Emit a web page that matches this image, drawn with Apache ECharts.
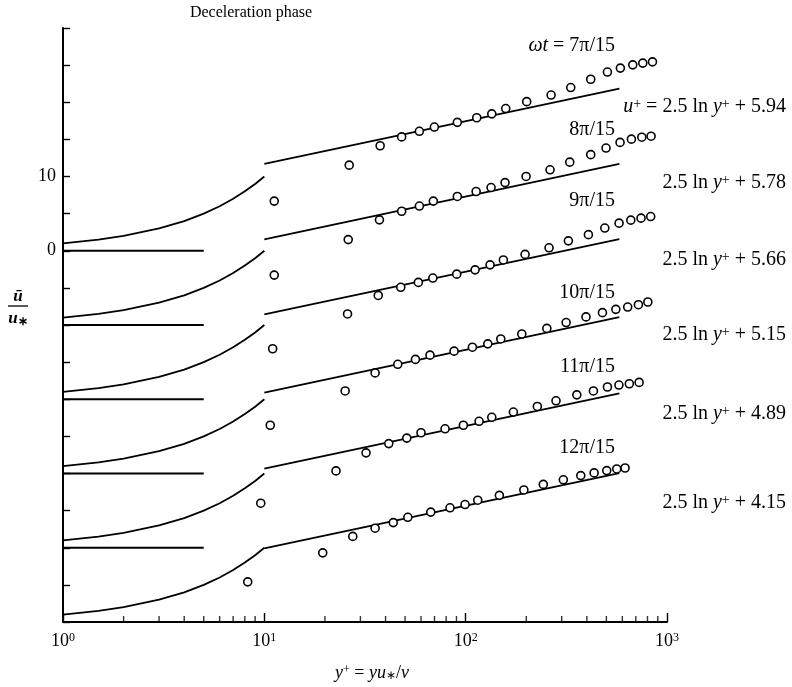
<!DOCTYPE html>
<html><head><meta charset="utf-8">
<script src="https://cdn.jsdelivr.net/npm/echarts@6/dist/echarts.min.js"></script>
<style>html,body{margin:0;padding:0;background:#fff;overflow:hidden}#c{width:792px;height:687px}</style>
</head><body><div id="c"></div>
<script>
// ---------- data ----------
const phaseLabels = ['7π/15', '8π/15', '9π/15', '10π/15', '11π/15', '12π/15'];
const offsets = [0, -10, -20, -30, -40, -50];          // vertical shift of each profile
const logConstants = [5.94, 5.78, 5.66, 5.15, 4.89, 4.15];
const logRange = [10, 580];                               // y+ extent of log-law lines
const baselineRange = [1, 5];                             // y+ extent of zero reference lines
const viscousYPlus = [1, 1.5, 2, 3, 4, 5, 6, 7, 8, 9, 10]; // u+ = y+ sublayer
const minorTickValues = [2,3,4,5,6,7,8,9,20,30,40,50,60,70,80,90,200,300,400,500,600,700,800,900];
const yTickLabels = [10, 0];

const yPlus7  = [11.2, 26.4, 37.6, 48.1, 58.9, 69.9, 90.9, 113.5, 134.8, 158.1, 201, 265.7, 332.6, 418, 505.9, 586.6, 676, 758, 847];
const u7      = [6.69, 11.53, 14.14, 15.33, 16.09, 16.66, 17.29, 17.91, 18.44, 19.15, 20.08, 20.97, 21.98, 23.1, 24.07, 24.6, 25.04, 25.27, 25.44];
const yPlus8  = [11.2, 26.1, 37.3, 48.1, 58.9, 69.1, 90.9, 112.7, 133.7, 156.9, 199.6, 262.4, 328.8, 418, 498, 584.6, 665.6, 749.6, 833.7];
const u8      = [6.72, 11.5, 14.16, 15.32, 16.02, 16.69, 17.31, 17.98, 18.51, 19.18, 20.01, 20.9, 21.93, 22.94, 23.83, 24.59, 25.03, 25.29, 25.43];
const yPlus9  = [11.0, 25.9, 36.8, 47.6, 58.2, 68.7, 90.3, 111.4, 132.2, 153.9, 197.3, 259.5, 323.7, 407, 491, 578, 661, 743, 830];
const u9      = [6.8, 11.49, 13.98, 15.08, 15.74, 16.32, 16.85, 17.43, 18.1, 18.76, 19.51, 20.4, 21.33, 22.17, 23.06, 23.72, 24.12, 24.39, 24.61];
const yPlus10 = [10.7, 25.2, 35.5, 46.0, 56.3, 66.5, 87.6, 108, 128.8, 149.4, 190, 253, 315.5, 396, 478, 557, 638, 721, 803];
const u10     = [6.5, 11.12, 13.55, 14.71, 15.37, 15.94, 16.48, 17.01, 17.46, 18.12, 18.79, 19.54, 20.33, 21.09, 21.66, 22.11, 22.42, 22.73, 23.1];
const yPlus11 = [9.6, 22.7, 32.0, 41.5, 51.0, 60.0, 79.0, 97.4, 116.6, 134.8, 172.6, 227, 281, 356.5, 431, 506, 577, 650, 727];
const u11     = [6.0, 10.35, 12.78, 14.03, 14.77, 15.49, 16.02, 16.5, 17.03, 17.57, 18.28, 19.03, 19.79, 20.59, 21.12, 21.65, 21.91, 22.09, 22.27];
const yPlus12 = [8.27, 19.5, 27.5, 35.5, 43.7, 51.6, 67.1, 83.6, 99.3, 114.8, 147, 194.5, 243, 305.6, 373, 434.5, 502, 563, 619];
const u12     = [5.41, 9.31, 11.53, 12.63, 13.39, 14.1, 14.8, 15.38, 15.82, 16.4, 17.06, 17.78, 18.53, 19.15, 19.72, 20.08, 20.39, 20.61, 20.74];

const yPlusAll = [yPlus7, yPlus8, yPlus9, yPlus10, yPlus11, yPlus12];
const uAll = [u7, u8, u9, u10, u11, u12];

// ---------- chart ----------
const FONT = 'Liberation Serif';
const lineStyle = { color: '#000', width: 1.8 };
const series = [];
for (let i = 0; i < offsets.length; i++) {
  const off = offsets[i];
  const C = logConstants[i];
  series.push({ type: 'line', showSymbol: false, silent: true, lineStyle,
    data: viscousYPlus.map(v => [v, v + off]) });
  series.push({ type: 'line', showSymbol: false, silent: true, lineStyle,
    data: baselineRange.map(v => [v, off]) });
  series.push({ type: 'line', showSymbol: false, silent: true, lineStyle,
    data: logRange.map(v => [v, 2.5 * Math.log(v) + C + off]) });
  series.push({ type: 'scatter', symbol: 'circle', symbolSize: 8, silent: true, z: 5,
    itemStyle: { color: '#fff', borderColor: '#000', borderWidth: 1.6, opacity: 1 },
    data: yPlusAll[i].map((v, j) => [v, uAll[i][j] + off]) });
}
// minor ticks of the log x-axis
series.push({ type: 'scatter', symbol: 'rect', symbolSize: [1.4, 6], symbolOffset: [0, -3],
  silent: true, clip: false, z: 6, itemStyle: { color: '#000' },
  data: minorTickValues.map(v => [v, -50]) });

const supRich = {
  i: { fontFamily: FONT, fontStyle: 'italic', fontSize: 20, color: '#000' },
  s: { fontFamily: FONT, fontSize: 14, lineHeight: 14, verticalAlign: 'top', color: '#000' },
  n: { fontFamily: FONT, fontSize: 20, color: '#000' }
};
function txt(text, x, y, align) {
  return { type: 'text', x, y, silent: true,
    style: { text, fontFamily: FONT, fontSize: 20, fill: '#000', align: align || 'left',
      verticalAlign: 'middle', rich: supRich } };
}
const formulaRight = 786, phaseRight = 615;
const graphic = [
  { type: 'text', x: 251, y: 13, style: { text: 'Deceleration phase', fontFamily: FONT, fontSize: 16, fill: '#000', align: 'center', verticalAlign: 'middle' } },
  txt('{i|ωt} = ' + phaseLabels[0], phaseRight, 46, 'right'),
  txt('{i|u}{s|+} = 2.5 ln {i|y}{s|+} + ' + logConstants[0].toFixed(2), formulaRight, 107, 'right'),
  txt(phaseLabels[1], phaseRight, 130, 'right'),
  txt('2.5 ln {i|y}{s|+} + ' + logConstants[1].toFixed(2), formulaRight, 183, 'right'),
  txt(phaseLabels[2], phaseRight, 201, 'right'),
  txt('2.5 ln {i|y}{s|+} + ' + logConstants[2].toFixed(2), formulaRight, 260, 'right'),
  txt(phaseLabels[3], phaseRight, 293, 'right'),
  txt('2.5 ln {i|y}{s|+} + ' + logConstants[3].toFixed(2), formulaRight, 335, 'right'),
  txt(phaseLabels[4], phaseRight, 367, 'right'),
  txt('2.5 ln {i|y}{s|+} + ' + logConstants[4].toFixed(2), formulaRight, 414, 'right'),
  txt(phaseLabels[5], phaseRight, 448, 'right'),
  txt('2.5 ln {i|y}{s|+} + ' + logConstants[5].toFixed(2), formulaRight, 503, 'right'),
  // y-axis name as a fraction
  { type: 'text', x: 18, y: 297, style: { text: 'ū', fontFamily: FONT, fontStyle: 'italic', fontWeight: 'bold', fontSize: 17, fill: '#000', align: 'center', verticalAlign: 'middle' } },
  { type: 'line', shape: { x1: 8, y1: 306, x2: 28, y2: 306 }, style: { stroke: '#000', lineWidth: 1.3 } },
  { type: 'text', x: 18, y: 319, style: { text: '{u|u}{a|∗}', fontFamily: FONT, fontSize: 17, fill: '#000', align: 'center', verticalAlign: 'middle',
      rich: { u: { fontFamily: FONT, fontStyle: 'italic', fontWeight: 'bold', fontSize: 17 }, a: { fontFamily: FONT, fontSize: 12, fontWeight: 'bold', verticalAlign: 'bottom' } } } }
];

const chart = echarts.init(document.getElementById('c'), null, { renderer: 'canvas' });
chart.setOption({
  animation: false,
  backgroundColor: '#fff',
  grid: { left: 63, right: 125, top: 28, bottom: 58, containLabel: false },
  xAxis: {
    type: 'log', logBase: 10, min: 1, max: 1000,
    axisLine: { show: true, onZero: false, lineStyle: { color: '#000', width: 2 } },
    axisTick: { show: true, inside: true, length: 9, lineStyle: { color: '#000', width: 1.4 } },
    splitLine: { show: false },
    axisLabel: { margin: 10, color: '#000', fontFamily: FONT, fontSize: 18,
      formatter: v => '10{s|' + Math.round(Math.log10(v)) + '}',
      rich: { s: { fontFamily: FONT, fontSize: 12, lineHeight: 12, verticalAlign: 'top', color: '#000' } } },
    name: '{i|y}{s|+} = {i|yu}{a|∗}/{i|ν}', nameLocation: 'middle', nameGap: 42,
    nameTextStyle: { fontFamily: FONT, fontSize: 18, color: '#000', padding: [0, 0, 0, 14],
      rich: { i: { fontFamily: FONT, fontStyle: 'italic', fontSize: 18, color: '#000' },
              s: { fontFamily: FONT, fontSize: 12, lineHeight: 12, verticalAlign: 'top', color: '#000' },
              a: { fontFamily: FONT, fontSize: 12, lineHeight: 12, verticalAlign: 'bottom', color: '#000' } } }
  },
  yAxis: {
    type: 'value', min: -50, max: 30, interval: 5,
    axisLine: { show: true, onZero: false, lineStyle: { color: '#000', width: 2 } },
    axisTick: { show: true, inside: true, length: 7, lineStyle: { color: '#000', width: 1.4 } },
    splitLine: { show: false },
    axisLabel: { margin: 7, color: '#000', fontFamily: FONT, fontSize: 18,
      formatter: v => yTickLabels.includes(v) ? String(v) : '' }
  },
  graphic,
  series
});
</script>
</body></html>
